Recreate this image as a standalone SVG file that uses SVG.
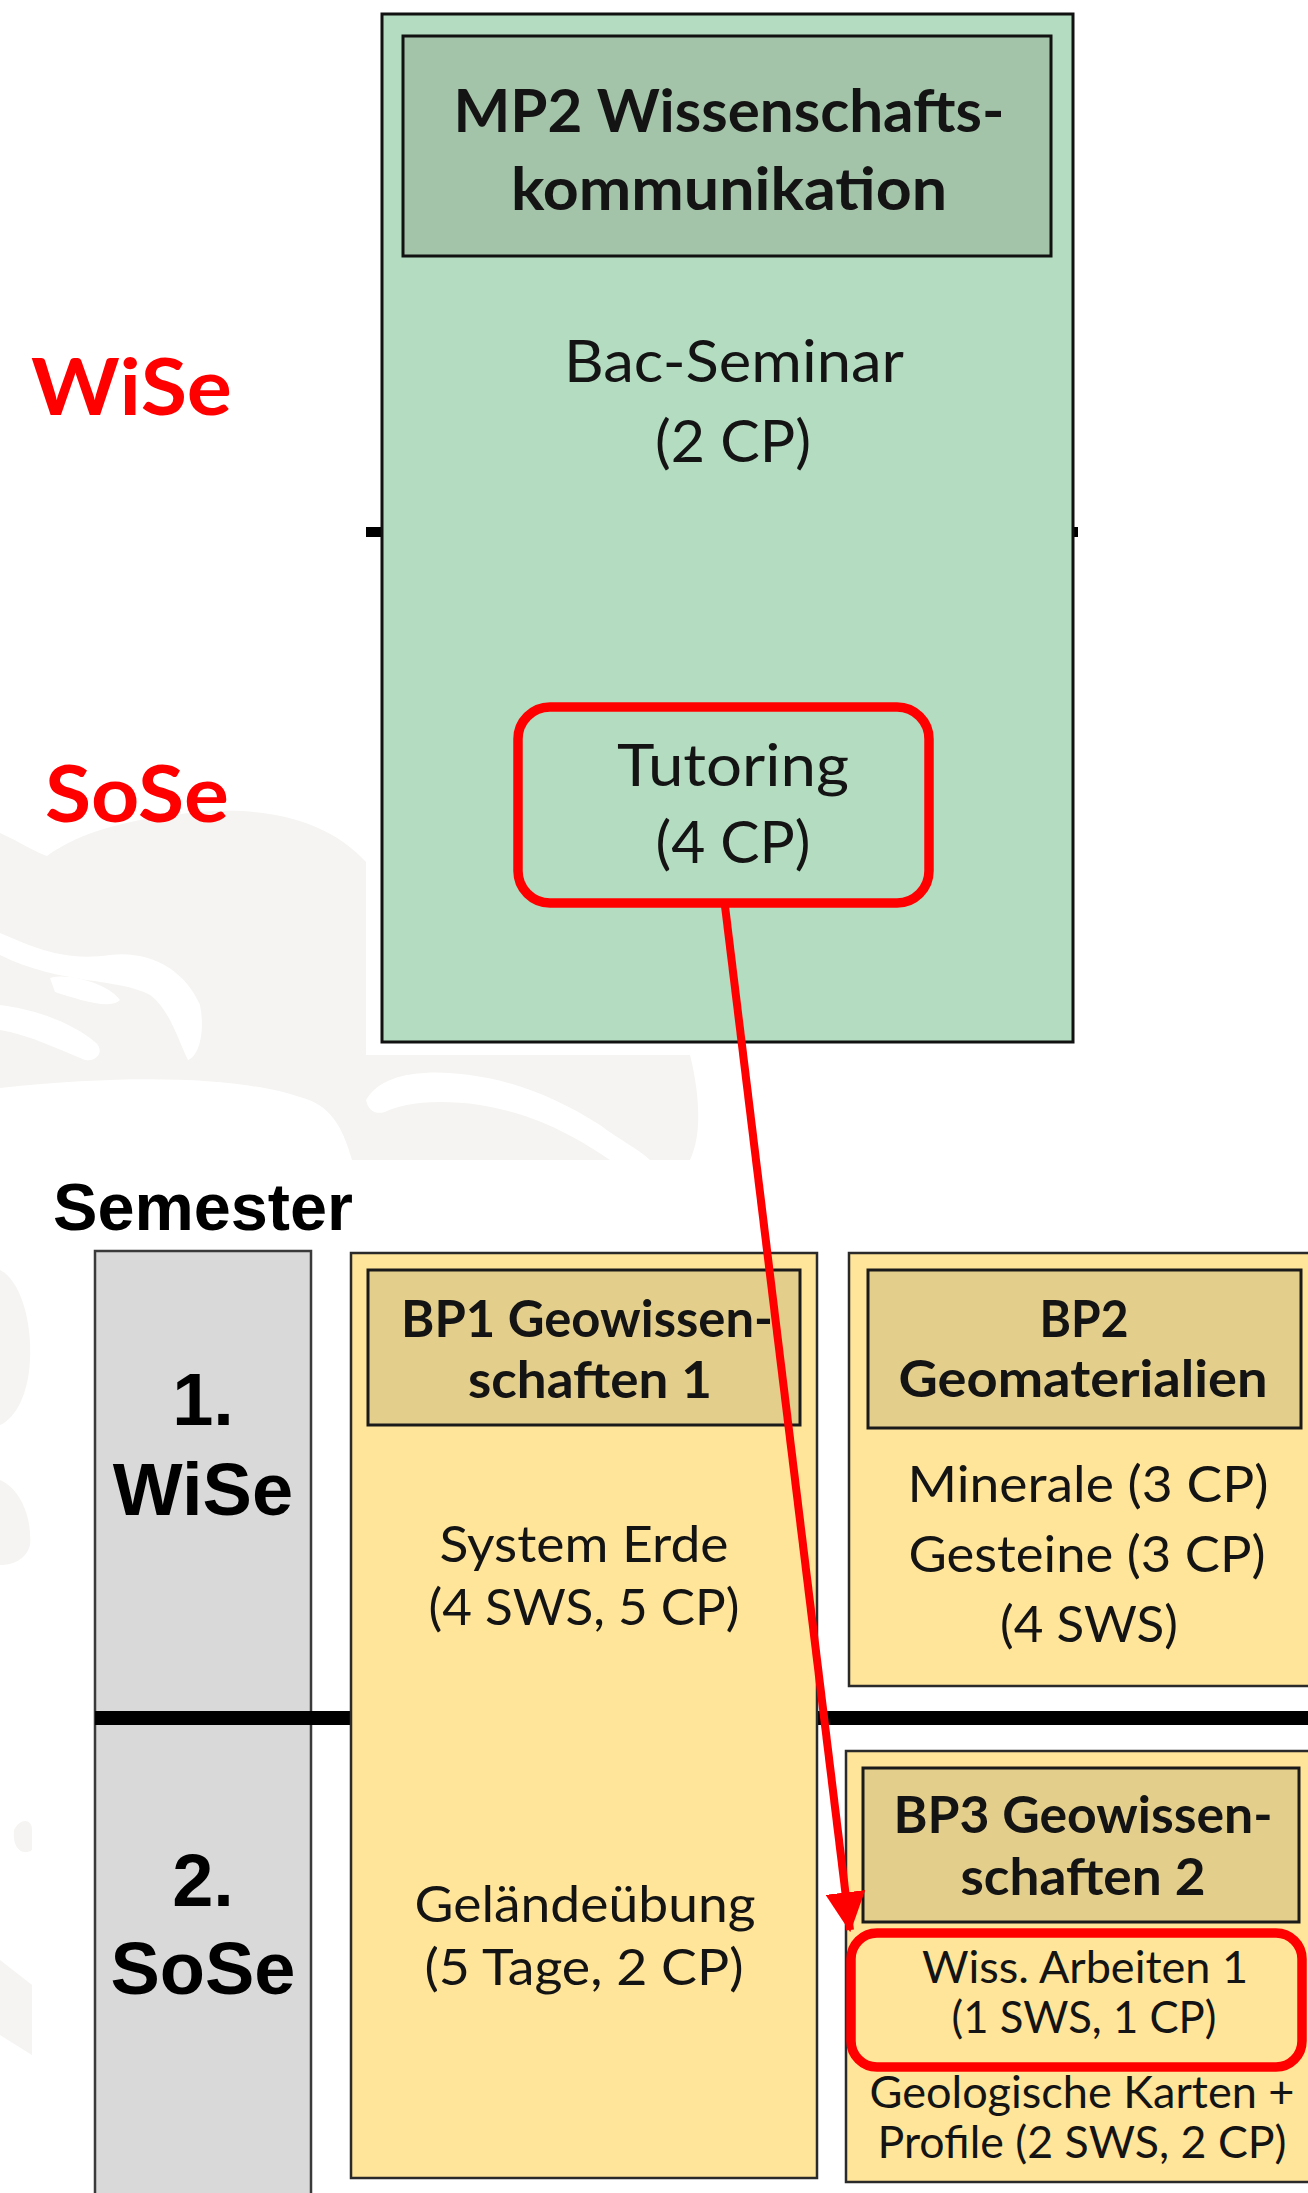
<svg xmlns="http://www.w3.org/2000/svg" width="1308" height="2193" viewBox="0 0 1308 2193">
  <style>
    .cal { font-family: Lato, "Open Sans", "Liberation Sans", sans-serif; fill: #141414; }
    .calb { font-family: Lato, "Open Sans", "Liberation Sans", sans-serif; font-weight: bold; fill: #141414; }
    .ari { font-family: "Liberation Sans", Arial, sans-serif; font-weight: bold; fill: #000; }
    .red { font-family: Lato, "Open Sans", sans-serif; font-weight: bold; fill: #ff0000; }
    .green { fill: #b4dcc0; stroke: #111; stroke-width: 3; }
    .greenhead { fill: #a3c4a9; stroke: #111; stroke-width: 3; }
    .yellow { fill: #ffe599; stroke: #2a2a2a; stroke-width: 2.5; }
    .tan { fill: #e3ce8b; stroke: #1a1a1a; stroke-width: 3; }
    .gray { fill: #d9d9d9; stroke: #3a3a3a; stroke-width: 2.5; }
    .hl { fill: none; stroke: #ff0000; stroke-width: 9.5; }
    .wm { fill: #f5f4f2; }
  </style>
  <defs>
    <marker id="arrowRed" markerUnits="userSpaceOnUse" markerWidth="40" markerHeight="40" viewBox="0 0 36 36" refX="34" refY="18" orient="auto">
      <path d="M0,0 L36,18 L0,36 Z" fill="#ff0000"/>
    </marker>
  </defs>
  <rect width="1308" height="2193" fill="#ffffff"/>

  <!-- faint watermark -->
  <g id="watermark">
    <path class="wm" d="M0,833 C20,842 35,852 47,856 C80,832 130,818 200,812 C270,806 330,822 366,862 L366,1055 L690,1055 C700,1095 702,1135 690,1160 L352,1160 C342,1125 330,1105 300,1097 C250,1080 150,1072 0,1088 Z"/>
    <path fill="#fff" d="M0,933 C30,945 60,962 110,955 C150,950 185,970 200,1005 C205,1030 200,1055 188,1060 C178,1040 170,1010 150,995 C120,978 60,985 0,955 Z"/>
    <path fill="#fff" d="M0,1005 C40,1010 75,1025 95,1042 C105,1050 98,1062 85,1060 C60,1050 30,1035 0,1030 Z"/>
    <path fill="#fff" d="M50,978 C70,972 110,985 120,1000 C110,1010 80,1000 55,992 Z"/>
    <path fill="#fff" d="M366,1100 C380,1075 420,1068 470,1075 C520,1082 560,1100 600,1125 C620,1140 640,1150 650,1160 L610,1160 C580,1140 540,1115 480,1105 C430,1098 400,1105 385,1112 C375,1115 368,1110 366,1100 Z"/>
    <path class="wm" d="M0,1270 C20,1280 32,1320 30,1360 C28,1400 12,1420 0,1425 Z"/>
    <path class="wm" d="M0,1480 C22,1490 32,1520 30,1545 C26,1560 12,1565 0,1565 Z"/>
    <path class="wm" d="M14,1830 C20,1818 32,1818 32,1830 L32,1850 C25,1855 12,1852 14,1830 Z"/>
    <path class="wm" d="M0,1960 L32,1985 L32,2055 L0,2035 Z"/>
  </g>

  <!-- side labels -->
  <g id="labels">
    <text class="red" x="31" y="415" font-size="78" textLength="201" lengthAdjust="spacingAndGlyphs">WiSe</text>
    <text class="red" x="45" y="822" font-size="78" textLength="184" lengthAdjust="spacingAndGlyphs">SoSe</text>
    <text class="ari" x="53" y="1230" font-size="66" textLength="300" lengthAdjust="spacingAndGlyphs">Semester</text>
  </g>

  <!-- timeline lines (behind boxes) -->
  <g id="dividers">
    <rect x="366" y="527" width="712" height="10" fill="#000"/>
  </g>

  <!-- MP2 node -->
  <g id="node-mp2">
    <rect class="green" x="382" y="14" width="691" height="1028"/>
    <rect class="greenhead" x="403" y="36" width="648" height="220"/>
    <text class="calb" x="729" y="132" font-size="60" text-anchor="middle" textLength="551" lengthAdjust="spacingAndGlyphs">MP2 Wissenschafts-</text>
    <text class="calb" x="729" y="210" font-size="60" text-anchor="middle" textLength="436" lengthAdjust="spacingAndGlyphs">kommunikation</text>
    <text class="cal" x="734" y="382" font-size="59" text-anchor="middle" textLength="340" lengthAdjust="spacingAndGlyphs">Bac-Seminar</text>
    <text class="cal" x="733" y="462" font-size="59" text-anchor="middle" textLength="156" lengthAdjust="spacingAndGlyphs">(2 CP)</text>
  </g>
  <g id="node-tutoring">
    <rect class="hl" x="518" y="707" width="411" height="196" rx="32" ry="32"/>
    <text class="cal" x="733" y="786" font-size="59" text-anchor="middle" textLength="232" lengthAdjust="spacingAndGlyphs">Tutoring</text>
    <text class="cal" x="733" y="863" font-size="59" text-anchor="middle" textLength="155" lengthAdjust="spacingAndGlyphs">(4 CP)</text>
  </g>

  <!-- semester column -->
  <g id="node-semester">
    <rect class="gray" x="95" y="1251" width="216" height="960"/>
    <text class="ari" x="203" y="1425" font-size="74" text-anchor="middle">1.</text>
    <text class="ari" x="203" y="1515" font-size="74" text-anchor="middle">WiSe</text>
    <text class="ari" x="203" y="1906" font-size="74" text-anchor="middle">2.</text>
    <text class="ari" x="203" y="1994" font-size="74" text-anchor="middle">SoSe</text>
  </g>

  <g id="semester-divider">
    <rect x="95" y="1711" width="1213" height="14" fill="#000"/>
  </g>

  <!-- BP1 -->
  <g id="node-bp1">
    <rect class="yellow" x="351" y="1253" width="466" height="925"/>
    <rect class="tan" x="368" y="1270" width="432" height="155"/>
    <text class="calb" x="587" y="1337" font-size="51" text-anchor="middle" textLength="372" lengthAdjust="spacingAndGlyphs">BP1 Geowissen-</text>
    <text class="calb" x="590" y="1398" font-size="51" text-anchor="middle" textLength="244" lengthAdjust="spacingAndGlyphs">schaften 1</text>
    <text class="cal" x="584" y="1562" font-size="51" text-anchor="middle" textLength="289" lengthAdjust="spacingAndGlyphs">System Erde</text>
    <text class="cal" x="584" y="1625" font-size="51" text-anchor="middle" textLength="311" lengthAdjust="spacingAndGlyphs">(4 SWS, 5 CP)</text>
    <text class="cal" x="585" y="1922" font-size="51" text-anchor="middle" textLength="341" lengthAdjust="spacingAndGlyphs">Geländeübung</text>
    <text class="cal" x="584" y="1985" font-size="51" text-anchor="middle" textLength="319" lengthAdjust="spacingAndGlyphs">(5 Tage, 2 CP)</text>
  </g>

  <!-- BP2 -->
  <g id="node-bp2">
    <rect class="yellow" x="849" y="1253" width="480" height="433"/>
    <rect class="tan" x="868" y="1270" width="433" height="158"/>
    <text class="calb" x="1084" y="1337" font-size="51" text-anchor="middle" textLength="89" lengthAdjust="spacingAndGlyphs">BP2</text>
    <text class="calb" x="1083" y="1397" font-size="51" text-anchor="middle" textLength="369" lengthAdjust="spacingAndGlyphs">Geomaterialien</text>
    <text class="cal" x="1088" y="1502" font-size="51" text-anchor="middle" textLength="361" lengthAdjust="spacingAndGlyphs">Minerale (3 CP)</text>
    <text class="cal" x="1087" y="1572" font-size="51" text-anchor="middle" textLength="357" lengthAdjust="spacingAndGlyphs">Gesteine (3 CP)</text>
    <text class="cal" x="1089" y="1642" font-size="51" text-anchor="middle" textLength="178" lengthAdjust="spacingAndGlyphs">(4 SWS)</text>
  </g>

  <!-- BP3 -->
  <g id="node-bp3">
    <rect class="yellow" x="846" y="1751" width="480" height="431"/>
    <rect class="tan" x="863" y="1768" width="436" height="154"/>
    <text class="calb" x="1083" y="1833" font-size="51" text-anchor="middle" textLength="379" lengthAdjust="spacingAndGlyphs">BP3 Geowissen-</text>
    <text class="calb" x="1083" y="1895" font-size="51" text-anchor="middle" textLength="245" lengthAdjust="spacingAndGlyphs">schaften 2</text>
    <text class="cal" x="1082" y="2108" font-size="44" text-anchor="middle" textLength="425" lengthAdjust="spacingAndGlyphs">Geologische Karten +</text>
    <text class="cal" x="1082" y="2158" font-size="44" text-anchor="middle" textLength="409" lengthAdjust="spacingAndGlyphs">Profile (2 SWS, 2 CP)</text>
  </g>
  <g id="node-wiss">
    <rect class="hl" x="851" y="1933" width="451" height="134" rx="26" ry="26"/>
    <text class="cal" x="1085" y="1983" font-size="44" text-anchor="middle" textLength="326" lengthAdjust="spacingAndGlyphs">Wiss. Arbeiten 1</text>
    <text class="cal" x="1084" y="2033" font-size="44" text-anchor="middle" textLength="265" lengthAdjust="spacingAndGlyphs">(1 SWS, 1 CP)</text>
  </g>

  <!-- connectors -->
  <g id="connectors">
    <line x1="725" y1="906" x2="850" y2="1930" stroke="#ff0000" stroke-width="8" marker-end="url(#arrowRed)"/>
  </g>
</svg>
